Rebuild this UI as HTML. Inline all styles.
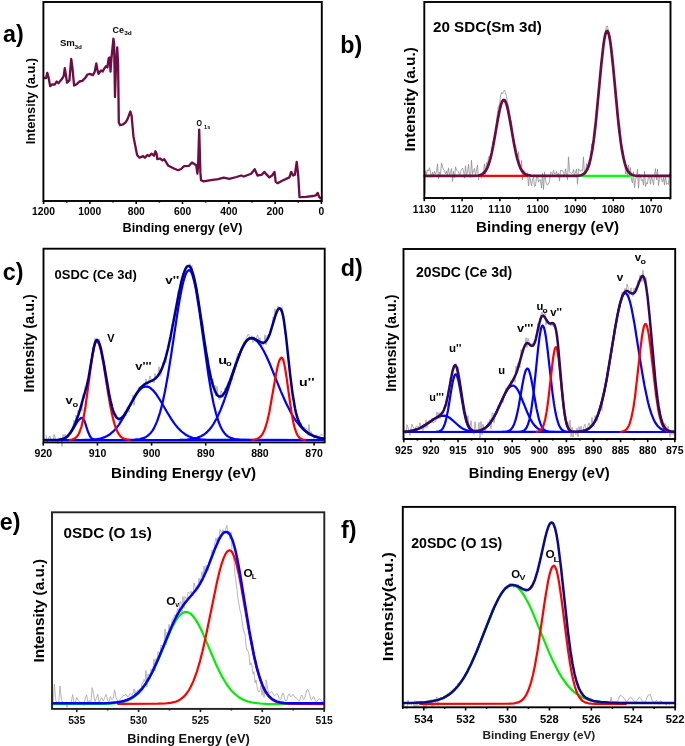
<!DOCTYPE html><html><head><meta charset="utf-8"><style>html,body{margin:0;padding:0;background:#fff;overflow:hidden}</style></head><body><svg width="685" height="746" viewBox="0 0 685 746" style="display:block;filter:blur(0.4px);font-family:'Liberation Sans',sans-serif;font-kerning:none">
<rect width="685" height="746" fill="#fff"/>
<path d="M44.3,78.0 L46.1,78.0 L47.3,72.8 L48.4,76.9 L50.2,86.2 L51.9,84.5 L54.8,84.5 L56.6,81.5 L58.4,83.3 L61.3,79.8 L63.6,76.3 L64.8,68.1 L67.1,82.7 L69.4,80.4 L71.2,58.8 L72.4,67.5 L74.1,85.6 L77.0,83.9 L79.4,81.5 L82.3,80.9 L85.2,78.0 L87.5,74.5 L89.9,73.9 L92.8,75.1 L94.6,72.2 L96.3,63.4 L97.5,70.4 L98.6,73.9 L101.0,70.4 L102.7,71.6 L104.0,68.9 L106.0,66.2 L107.4,67.5 L108.7,58.2 L109.7,57.5 L110.5,71.6 L111.4,58.8 L113.4,38.7 L114.1,43.4 L115.0,97.0 L116.1,63.5 L117.2,47.4 L118.1,63.5 L118.8,122.5 L120.1,125.2 L122.8,124.5 L125.5,122.5 L127.4,119.3 L130.4,111.5 L131.6,115.7 L133.4,136.2 L135.3,145.9 L137.1,154.9 L139.5,157.7 L143.1,156.1 L144.9,157.7 L147.3,154.9 L149.1,156.1 L151.5,153.7 L154.0,155.7 L155.4,151.3 L156.6,153.7 L157.3,159.1 L160.0,158.5 L162.4,160.3 L164.2,159.1 L168.4,165.8 L174.5,168.8 L178.1,170.2 L181.1,169.0 L184.1,166.1 L189.0,165.8 L192.0,162.5 L196.2,165.2 L197.4,173.6 L198.0,167.6 L199.2,129.6 L200.4,172.4 L201.0,180.2 L203.6,181.4 L210.9,180.1 L218.2,179.2 L223.7,177.7 L229.2,178.8 L236.5,177.0 L241.1,175.5 L243.8,176.5 L251.1,173.7 L254.7,169.2 L257.5,175.5 L262.0,174.6 L264.2,171.9 L269.3,177.4 L272.1,175.5 L274.5,171.9 L275.7,181.9 L277.6,183.2 L282.1,180.7 L289.4,177.4 L291.2,171.9 L293.1,175.5 L294.9,174.6 L296.7,161.9 L298.2,175.5 L299.5,197.1 L305.8,196.9 L313.1,196.0 L315.9,195.3 L317.7,192.9 L319.0,196.5 L320.4,198.4" fill="none" stroke="#6e0c44" stroke-width="2.3" stroke-linejoin="round" stroke-linecap="round"/>
<rect x="43.40" y="2.00" width="278.40" height="199.00" fill="none" stroke="#000" stroke-width="1.9"/>
<line x1="321.40" y1="201.00" x2="321.40" y2="204.00" stroke="#000" stroke-width="1.6"/>
<line x1="275.10" y1="201.00" x2="275.10" y2="204.00" stroke="#000" stroke-width="1.6"/>
<line x1="228.80" y1="201.00" x2="228.80" y2="204.00" stroke="#000" stroke-width="1.6"/>
<line x1="182.50" y1="201.00" x2="182.50" y2="204.00" stroke="#000" stroke-width="1.6"/>
<line x1="136.20" y1="201.00" x2="136.20" y2="204.00" stroke="#000" stroke-width="1.6"/>
<line x1="89.90" y1="201.00" x2="89.90" y2="204.00" stroke="#000" stroke-width="1.6"/>
<line x1="43.60" y1="201.00" x2="43.60" y2="204.00" stroke="#000" stroke-width="1.6"/>
<line x1="298.25" y1="201.00" x2="298.25" y2="202.60" stroke="#000" stroke-width="1.6"/>
<line x1="251.95" y1="201.00" x2="251.95" y2="202.60" stroke="#000" stroke-width="1.6"/>
<line x1="205.65" y1="201.00" x2="205.65" y2="202.60" stroke="#000" stroke-width="1.6"/>
<line x1="159.35" y1="201.00" x2="159.35" y2="202.60" stroke="#000" stroke-width="1.6"/>
<line x1="113.05" y1="201.00" x2="113.05" y2="202.60" stroke="#000" stroke-width="1.6"/>
<line x1="66.75" y1="201.00" x2="66.75" y2="202.60" stroke="#000" stroke-width="1.6"/>
<text x="32.03" y="215.30" font-size="10.3" font-weight="bold" fill="#000">1200</text>
<text x="78.33" y="215.30" font-size="10.3" font-weight="bold" fill="#000">1000</text>
<text x="127.66" y="215.30" font-size="10.3" font-weight="bold" fill="#000">800</text>
<text x="173.93" y="215.30" font-size="10.3" font-weight="bold" fill="#000">600</text>
<text x="220.34" y="215.30" font-size="10.3" font-weight="bold" fill="#000">400</text>
<text x="266.54" y="215.30" font-size="10.3" font-weight="bold" fill="#000">200</text>
<text x="318.54" y="215.30" font-size="10.3" font-weight="bold" fill="#000">0</text>
<text x="122.55" y="231.50" font-size="12.5" font-weight="bold" fill="#000" textLength="119.88" lengthAdjust="spacingAndGlyphs">Binding energy (eV)</text>
<text transform="translate(34.60,143.40) rotate(-90)" x="-0.85" y="0" font-size="12.2" font-weight="bold" fill="#000" textLength="86.18" lengthAdjust="spacingAndGlyphs">Intensity (a.u.)</text>
<text x="3.12" y="42.00" font-size="23.3" font-weight="bold" fill="#000">a)</text>
<text x="59.92" y="46.30" font-size="9.0" font-weight="bold" fill="#000" textLength="14.97" lengthAdjust="spacingAndGlyphs">Sm</text>
<text x="74.45" y="48.50" font-size="6.2" font-weight="bold" fill="#000" textLength="7.47" lengthAdjust="spacingAndGlyphs">3d</text>
<text x="112.43" y="32.50" font-size="9.0" font-weight="bold" fill="#000" textLength="11.48" lengthAdjust="spacingAndGlyphs">Ce</text>
<text x="124.15" y="34.60" font-size="6.2" font-weight="bold" fill="#000" textLength="7.58" lengthAdjust="spacingAndGlyphs">3d</text>
<text x="196.61" y="126.30" font-size="8.4" font-weight="bold" fill="#000" textLength="5.49" lengthAdjust="spacingAndGlyphs">O</text>
<text x="204.05" y="128.60" font-size="5.8" font-weight="bold" fill="#000" textLength="6.18" lengthAdjust="spacingAndGlyphs">1s</text>
<path d="M425.0,194.0 L425.5,170.7 L426.5,174.8 L427.5,169.8 L428.5,171.1 L429.5,167.7 L431.5,177.1 L432.5,172.1 L433.5,176.8 L434.5,171.4 L435.5,174.0 L436.5,172.1 L437.5,163.8 L438.5,178.8 L439.5,171.9 L440.5,174.3 L441.5,162.9 L442.5,166.7 L443.5,169.5 L444.5,170.5 L445.5,173.9 L446.5,171.0 L447.5,174.7 L448.5,167.8 L449.5,174.8 L450.5,172.8 L451.5,168.4 L452.5,181.4 L453.5,171.3 L454.5,177.9 L455.5,166.8 L456.5,170.1 L458.5,171.7 L459.5,175.0 L460.5,172.0 L461.5,169.7 L462.5,168.1 L463.5,170.7 L464.5,178.2 L465.5,165.8 L466.5,175.2 L467.5,172.8 L468.5,164.4 L469.5,174.7 L470.5,177.2 L471.5,160.4 L472.5,174.4 L473.5,170.5 L474.5,168.4 L475.5,175.4 L477.5,165.2 L478.5,179.7 L479.5,174.3 L480.5,177.2 L481.5,178.1 L482.5,171.9 L483.5,172.0 L484.5,163.9 L485.5,174.3 L486.5,162.6 L487.5,164.8 L488.5,156.9 L489.5,157.1 L491.5,154.4 L492.5,142.0 L493.5,140.4 L495.5,131.9 L497.5,112.2 L498.5,105.9 L499.5,105.6 L500.5,96.1 L501.5,92.6 L502.5,93.8 L503.5,91.3 L504.5,90.1 L505.5,92.8 L506.5,96.3 L507.5,103.3 L508.5,106.1 L510.5,119.5 L511.5,122.0 L512.5,135.6 L513.5,138.7 L514.5,144.6 L515.5,144.7 L516.5,153.8 L517.5,159.2 L518.5,151.7 L519.5,166.2 L520.5,170.3 L521.5,160.4 L522.5,180.0 L523.5,169.8 L524.5,171.3 L525.5,174.0 L526.5,175.3 L527.5,172.8 L528.5,186.0 L529.5,175.4 L531.5,185.8 L532.5,179.2 L533.5,177.2 L534.5,186.7 L535.5,185.9 L536.5,177.0 L537.5,175.6 L538.5,182.1 L539.5,179.8 L540.5,179.9 L541.5,188.0 L542.5,173.5 L543.5,189.5 L544.5,171.8 L545.5,180.3 L546.5,184.1 L547.5,185.2 L549.5,181.6 L550.5,172.3 L551.5,172.5 L552.5,174.5 L553.5,170.2 L554.5,173.8 L555.5,174.0 L556.5,171.2 L557.5,175.8 L558.5,173.2 L559.5,181.1 L560.5,170.2 L562.5,170.6 L563.5,172.3 L564.5,176.2 L565.5,168.8 L567.5,179.7 L568.5,156.9 L569.5,171.8 L570.5,173.1 L571.5,173.4 L572.5,172.5 L573.5,169.6 L574.5,175.8 L575.5,171.8 L576.5,169.3 L577.5,184.3 L578.5,169.0 L579.5,169.8 L580.5,171.4 L581.5,169.9 L582.5,170.7 L583.5,156.9 L584.5,175.5 L585.5,176.2 L586.5,163.6 L587.5,170.8 L588.5,170.0 L589.5,165.8 L590.5,165.2 L591.5,143.9 L592.5,150.4 L593.5,139.4 L594.5,137.7 L595.5,129.1 L596.5,108.8 L597.5,109.6 L598.5,89.6 L599.5,85.7 L600.5,67.5 L601.5,62.3 L603.5,40.6 L604.5,35.0 L606.5,26.2 L607.5,26.0 L608.5,31.6 L609.5,34.2 L610.5,39.2 L611.5,54.5 L612.5,54.3 L613.5,72.7 L614.5,78.9 L615.5,92.8 L617.5,113.5 L618.5,126.4 L619.5,123.9 L620.5,135.9 L621.5,151.7 L622.5,147.0 L623.5,155.4 L624.5,156.2 L625.5,173.8 L626.5,168.9 L627.5,177.1 L628.5,165.0 L629.5,175.4 L630.5,167.6 L631.5,180.4 L632.5,183.0 L633.5,171.6 L634.5,187.7 L635.5,179.5 L636.5,176.9 L637.5,169.3 L638.5,188.2 L639.5,174.4 L640.5,176.9 L641.5,180.8 L642.5,179.5 L643.5,185.2 L644.5,171.1 L645.5,186.4 L646.5,182.7 L647.5,183.9 L648.5,175.6 L649.5,175.8 L650.5,184.2 L651.5,176.9 L652.5,179.5 L653.5,184.8 L654.5,174.9 L655.5,168.6 L656.5,180.0 L657.5,169.0 L658.5,185.6 L659.5,177.4 L660.5,175.8 L662.5,182.1 L663.5,177.5 L664.5,185.1 L665.5,175.8 L666.5,184.3 L667.5,183.5 L668.5,184.3 L669.5,173.1" fill="none" stroke="#8c8c8c" stroke-width="0.8" stroke-linejoin="round" stroke-linecap="round"/>
<path d="M478.2,175.9 L527.3,175.9" fill="none" stroke="#ff0000" stroke-width="2.2" stroke-linejoin="round" stroke-linecap="round" stroke-linecap="butt"/>
<path d="M580.9,175.9 L630.1,175.9" fill="none" stroke="#00ff00" stroke-width="2.2" stroke-linejoin="round" stroke-linecap="round" stroke-linecap="butt"/>
<path d="M424.8,175.9 L475.3,175.8 L478.3,175.5 L480.3,175.1 L482.3,174.2 L483.8,173.1 L485.8,170.6 L487.3,167.8 L488.8,163.9 L490.3,158.9 L491.8,152.6 L493.3,145.2 L497.8,119.4 L499.8,109.3 L500.8,105.3 L501.8,102.4 L502.8,100.5 L503.3,100.1 L503.8,99.9 L504.3,100.1 L504.8,100.5 L505.8,102.4 L506.8,105.3 L507.8,109.3 L509.8,119.4 L514.3,145.2 L515.8,152.6 L517.3,158.9 L518.8,163.9 L520.3,167.8 L521.8,170.6 L523.8,173.1 L525.8,174.5 L527.8,175.2 L530.8,175.7 L535.3,175.9 L576.3,175.8 L578.8,175.6 L580.8,175.2 L582.3,174.7 L583.8,173.8 L585.3,172.4 L586.3,171.0 L588.3,166.7 L590.3,159.9 L592.3,149.7 L593.8,139.5 L595.8,122.4 L601.3,64.4 L603.3,46.4 L604.3,39.5 L605.3,34.5 L606.3,31.6 L606.8,31.0 L607.3,30.9 L607.8,31.5 L608.3,32.5 L609.3,36.3 L610.3,42.0 L611.3,49.6 L613.3,68.5 L617.8,116.6 L619.3,130.6 L620.8,142.4 L621.8,149.1 L623.3,157.2 L624.8,163.4 L626.3,167.8 L627.8,170.8 L629.8,173.3 L631.8,174.7 L634.3,175.5 L636.8,175.8 L640.3,175.9 L670.0,175.9" fill="none" stroke="#6b0c40" stroke-width="2.7" stroke-linejoin="round" stroke-linecap="round"/>
<rect x="424.30" y="2.00" width="246.20" height="196.00" fill="none" stroke="#000" stroke-width="1.9"/>
<line x1="424.30" y1="198.00" x2="424.30" y2="201.20" stroke="#000" stroke-width="1.6"/>
<line x1="462.10" y1="198.00" x2="462.10" y2="201.20" stroke="#000" stroke-width="1.6"/>
<line x1="499.90" y1="198.00" x2="499.90" y2="201.20" stroke="#000" stroke-width="1.6"/>
<line x1="537.70" y1="198.00" x2="537.70" y2="201.20" stroke="#000" stroke-width="1.6"/>
<line x1="575.50" y1="198.00" x2="575.50" y2="201.20" stroke="#000" stroke-width="1.6"/>
<line x1="613.30" y1="198.00" x2="613.30" y2="201.20" stroke="#000" stroke-width="1.6"/>
<line x1="651.10" y1="198.00" x2="651.10" y2="201.20" stroke="#000" stroke-width="1.6"/>
<line x1="443.20" y1="198.00" x2="443.20" y2="199.60" stroke="#000" stroke-width="1.6"/>
<line x1="481.00" y1="198.00" x2="481.00" y2="199.60" stroke="#000" stroke-width="1.6"/>
<line x1="518.80" y1="198.00" x2="518.80" y2="199.60" stroke="#000" stroke-width="1.6"/>
<line x1="556.60" y1="198.00" x2="556.60" y2="199.60" stroke="#000" stroke-width="1.6"/>
<line x1="594.40" y1="198.00" x2="594.40" y2="199.60" stroke="#000" stroke-width="1.6"/>
<line x1="632.20" y1="198.00" x2="632.20" y2="199.60" stroke="#000" stroke-width="1.6"/>
<line x1="670.00" y1="198.00" x2="670.00" y2="199.60" stroke="#000" stroke-width="1.6"/>
<text x="412.73" y="213.40" font-size="10.3" font-weight="bold" fill="#000">1130</text>
<text x="450.53" y="213.40" font-size="10.3" font-weight="bold" fill="#000">1120</text>
<text x="488.33" y="213.40" font-size="10.3" font-weight="bold" fill="#000">1110</text>
<text x="526.13" y="213.40" font-size="10.3" font-weight="bold" fill="#000">1100</text>
<text x="563.93" y="213.40" font-size="10.3" font-weight="bold" fill="#000">1090</text>
<text x="601.73" y="213.40" font-size="10.3" font-weight="bold" fill="#000">1080</text>
<text x="639.53" y="213.40" font-size="10.3" font-weight="bold" fill="#000">1070</text>
<text x="475.99" y="231.90" font-size="14.8" font-weight="bold" fill="#000" textLength="143.07" lengthAdjust="spacingAndGlyphs">Binding energy (eV)</text>
<text transform="translate(414.80,150.40) rotate(-90)" x="-1.03" y="0" font-size="14.6" font-weight="bold" fill="#000" textLength="104.30" lengthAdjust="spacingAndGlyphs">Intensity (a.u.)</text>
<text x="340.36" y="53.40" font-size="23.3" font-weight="bold" fill="#000">b)</text>
<text x="432.97" y="32.40" font-size="14.6" font-weight="bold" fill="#000" textLength="108.88" lengthAdjust="spacingAndGlyphs">20 SDC(Sm 3d)</text>
<path d="M46.0,435.5 L47.0,441.6 L48.0,441.3 L49.0,436.9 L50.0,436.0 L51.0,440.1 L52.0,440.3 L53.0,442.1 L54.0,434.5 L55.0,436.9 L56.0,442.0 L57.0,439.5 L58.0,443.5 L59.0,440.3 L60.0,438.0 L61.0,438.1 L62.0,446.4 L63.0,434.5 L64.0,436.7 L65.0,434.3 L66.0,438.0 L68.0,434.0 L69.0,434.0 L71.0,432.9 L72.0,432.0 L73.0,427.2 L74.0,420.1 L75.0,427.0 L76.0,415.0 L77.0,419.5 L78.0,410.3 L79.0,414.0 L80.0,406.1 L81.0,407.2 L82.0,411.1 L83.0,394.6 L84.0,398.4 L85.0,386.2 L86.0,389.1 L87.0,385.9 L88.0,378.8 L89.0,375.8 L91.0,359.3 L92.0,358.8 L93.0,347.1 L94.0,352.5 L95.0,338.2 L96.0,343.3 L97.0,338.1 L98.0,343.3 L99.0,338.8 L100.0,348.6 L101.0,346.5 L102.0,357.2 L103.0,358.2 L104.0,363.8 L105.0,366.9 L106.0,378.5 L107.0,381.6 L108.0,391.9 L109.0,389.7 L110.0,400.2 L111.0,402.6 L112.0,406.7 L114.0,412.6 L115.0,412.5 L116.0,413.7 L118.0,419.8 L119.0,422.0 L120.0,419.6 L121.0,420.1 L122.0,418.1 L123.0,417.2 L124.0,414.4 L126.0,415.9 L127.0,407.1 L128.0,406.7 L129.0,412.4 L130.0,402.8 L131.0,405.8 L132.0,402.0 L133.0,394.8 L134.0,405.6 L135.0,397.5 L136.0,393.3 L137.0,394.3 L139.0,386.6 L140.0,388.4 L141.0,387.6 L142.0,388.7 L143.0,385.8 L144.0,383.7 L145.0,387.3 L146.0,378.9 L147.0,385.8 L148.0,383.7 L150.0,375.9 L151.0,379.3 L152.0,380.9 L153.0,380.5 L154.0,382.9 L155.0,373.5 L156.0,378.7 L157.0,377.5 L158.0,373.9 L159.0,366.7 L160.0,376.5 L161.0,375.1 L163.0,361.9 L164.0,362.1 L165.0,359.8 L166.0,362.8 L167.0,351.1 L168.0,348.3 L169.0,347.8 L170.0,336.8 L171.0,340.0 L172.0,324.4 L173.0,323.4 L175.0,316.1 L176.0,307.9 L177.0,302.5 L178.0,290.9 L179.0,291.4 L180.0,285.0 L181.0,281.4 L182.0,280.4 L183.0,273.0 L184.0,274.6 L185.0,268.3 L186.0,266.4 L188.0,266.2 L189.0,267.3 L190.0,263.7 L191.0,267.5 L192.0,265.6 L193.0,279.0 L194.0,278.7 L195.0,279.7 L196.0,285.0 L197.0,288.1 L198.0,299.1 L199.0,303.8 L200.0,316.8 L201.0,315.5 L202.0,322.1 L203.0,324.0 L204.0,344.1 L205.0,342.4 L206.0,346.3 L207.0,358.6 L208.0,356.9 L209.0,380.2 L210.0,371.8 L211.0,379.3 L212.0,380.0 L213.0,378.8 L214.0,389.6 L215.0,385.1 L216.0,396.0 L217.0,386.3 L218.0,395.0 L219.0,399.3 L220.0,399.5 L221.0,390.8 L222.0,392.1 L223.0,397.7 L224.0,394.0 L225.0,387.8 L226.0,388.4 L228.0,382.0 L229.0,381.5 L230.0,384.0 L231.0,377.8 L232.0,380.4 L233.0,369.2 L234.0,369.1 L235.0,362.7 L236.0,363.6 L237.0,355.9 L238.0,353.5 L239.0,358.2 L240.0,355.3 L241.0,351.2 L242.0,351.1 L243.0,345.1 L244.0,341.7 L245.0,343.0 L246.0,339.2 L248.0,334.4 L249.0,334.8 L250.0,338.5 L252.0,335.8 L253.0,342.3 L254.0,336.6 L255.0,340.3 L256.0,341.6 L257.0,335.8 L258.0,335.2 L259.0,344.4 L260.0,337.7 L261.0,346.7 L262.0,341.1 L263.0,345.3 L264.0,343.0 L265.0,334.7 L266.0,344.9 L267.0,335.5 L268.0,336.4 L269.0,334.2 L270.0,335.2 L271.0,331.3 L272.0,328.7 L273.0,317.0 L274.0,319.6 L275.0,308.8 L276.0,315.2 L277.0,311.5 L278.0,306.0 L279.0,309.3 L280.0,307.7 L281.0,311.7 L282.0,307.4 L284.0,318.5 L285.0,333.3 L286.0,336.8 L287.0,343.8 L288.0,354.9 L290.0,373.2 L292.0,388.4 L293.0,392.6 L295.0,412.7 L296.0,411.8 L297.0,415.9 L298.0,418.0 L299.0,421.7 L300.0,424.2 L301.0,422.8 L302.0,427.9 L303.0,428.1 L304.0,426.6 L305.0,428.3 L306.0,428.3 L307.0,429.2 L308.0,435.7 L309.0,424.6 L310.0,435.6 L311.0,431.4 L313.0,435.6 L314.0,438.5 L315.0,434.9 L316.0,436.0 L317.0,434.6 L319.0,439.6 L320.0,435.1 L321.0,434.7 L322.0,434.8 L323.0,435.5" fill="none" stroke="#9c9c9c" stroke-width="0.8" stroke-linejoin="round" stroke-linecap="round"/>
<path d="M44.5,440.0 L54.5,440.0 L59.0,439.8 L62.5,439.1 L65.5,437.8 L68.0,435.9 L70.5,432.9 L72.5,429.9 L76.5,423.1 L78.5,420.2 L80.5,418.4 L82.0,417.9 L82.5,418.0 L83.0,418.4 L84.0,420.0 L85.0,422.5 L88.0,431.8 L90.0,436.3 L91.0,437.7 L92.5,439.0 L94.0,439.6 L95.5,439.9 L101.5,440.0 L323.8,440.0" fill="none" stroke="#0000ff" stroke-width="2.2" stroke-linejoin="round" stroke-linecap="round"/>
<path d="M44.5,440.0 L80.0,440.0 L91.5,439.7 L96.5,439.2 L100.5,438.5 L104.0,437.4 L107.0,436.0 L110.0,434.2 L113.0,431.7 L116.0,428.5 L119.0,424.6 L124.0,416.5 L134.0,398.0 L138.0,391.9 L140.0,389.6 L142.0,387.8 L144.0,386.8 L146.0,386.5 L148.0,386.8 L150.5,388.1 L153.0,390.3 L155.5,393.2 L160.0,400.0 L168.0,413.7 L171.5,419.4 L175.0,424.4 L178.0,428.0 L181.5,431.5 L185.0,434.2 L188.5,436.2 L192.5,437.7 L196.0,438.6 L200.5,439.3 L205.5,439.7 L212.0,439.9 L323.8,440.0" fill="none" stroke="#0000ff" stroke-width="2.2" stroke-linejoin="round" stroke-linecap="round"/>
<path d="M44.5,440.0 L122.0,440.0 L134.5,439.7 L140.0,439.1 L144.0,437.9 L146.0,436.9 L147.5,435.9 L150.5,433.2 L152.5,430.6 L154.0,428.1 L157.0,421.6 L160.0,412.6 L162.5,403.0 L165.0,391.3 L168.0,374.8 L171.0,356.0 L177.5,312.6 L179.5,300.5 L181.5,289.8 L183.5,281.1 L185.5,274.7 L186.5,272.5 L187.5,271.1 L188.5,270.3 L189.0,270.2 L189.5,270.3 L190.5,271.1 L191.5,272.8 L192.5,275.4 L194.0,280.6 L196.0,290.1 L199.5,311.7 L208.5,375.6 L211.0,390.5 L213.5,403.2 L216.0,413.5 L218.5,421.5 L220.0,425.4 L221.5,428.5 L223.0,431.1 L224.5,433.2 L226.0,434.8 L227.5,436.1 L230.5,437.9 L234.5,439.1 L239.5,439.7 L251.0,440.0 L323.8,440.0" fill="none" stroke="#0000ff" stroke-width="2.2" stroke-linejoin="round" stroke-linecap="round"/>
<path d="M44.5,440.0 L180.0,439.9 L187.0,439.5 L192.5,438.9 L197.0,437.8 L201.0,436.2 L203.5,434.8 L205.5,433.3 L207.5,431.6 L209.5,429.5 L211.5,427.0 L213.5,424.0 L217.0,417.8 L220.5,410.1 L224.0,401.0 L227.5,390.8 L236.5,362.8 L241.0,350.8 L243.5,345.5 L246.0,341.5 L247.5,339.8 L248.5,339.0 L250.0,338.3 L251.0,338.2 L252.5,338.4 L254.0,338.9 L255.5,339.8 L257.0,341.1 L260.0,344.7 L263.5,350.5 L266.5,356.5 L269.5,363.2 L281.0,391.6 L286.0,403.0 L291.5,413.7 L294.0,417.9 L296.5,421.6 L299.5,425.4 L302.5,428.6 L305.5,431.3 L308.5,433.4 L312.0,435.3 L315.5,436.7 L319.5,437.9 L323.8,438.7" fill="none" stroke="#0000ff" stroke-width="2.2" stroke-linejoin="round" stroke-linecap="round"/>
<path d="M70.0,439.8 L72.0,439.5 L74.0,438.8 L75.5,437.9 L77.0,436.5 L78.5,434.3 L79.5,432.2 L81.5,426.5 L83.5,418.0 L85.5,406.5 L91.0,365.4 L93.0,352.2 L94.0,347.2 L95.0,343.6 L96.0,341.5 L96.5,341.1 L97.0,341.1 L98.0,341.9 L99.0,343.9 L100.0,346.9 L101.5,353.2 L103.5,364.0 L108.0,392.5 L110.5,407.0 L113.0,418.6 L115.0,425.7 L116.0,428.5 L117.5,431.9 L119.0,434.4 L120.5,436.3 L122.0,437.6 L124.0,438.7 L126.5,439.4 L129.3,439.8" fill="none" stroke="#ff0000" stroke-width="2.2" stroke-linejoin="round" stroke-linecap="round"/>
<path d="M252.4,439.8 L254.9,439.5 L256.9,439.0 L258.9,438.0 L260.4,436.7 L261.9,434.9 L262.9,433.3 L264.4,430.2 L265.4,427.5 L267.4,420.7 L269.4,411.8 L275.4,377.6 L277.4,367.5 L278.4,363.5 L279.4,360.5 L280.4,358.5 L281.4,357.7 L281.9,357.7 L282.4,358.2 L282.9,359.2 L283.9,362.3 L284.9,367.1 L286.4,376.4 L291.4,412.0 L293.4,422.7 L294.9,428.7 L296.9,434.1 L297.9,435.8 L298.9,437.1 L299.9,438.1 L301.4,439.0 L302.9,439.5 L305.0,439.8" fill="none" stroke="#ff0000" stroke-width="2.2" stroke-linejoin="round" stroke-linecap="round"/>
<path d="M44.5,440.0 L58.0,439.8 L61.0,439.5 L63.5,438.8 L66.0,437.5 L68.0,435.8 L70.5,432.6 L72.5,429.2 L75.5,422.7 L78.5,414.6 L80.5,408.1 L83.0,398.8 L86.5,387.0 L88.5,377.9 L93.5,348.7 L95.0,342.9 L96.0,340.7 L96.5,340.2 L97.0,340.1 L97.5,340.3 L98.5,341.6 L99.5,343.9 L101.0,349.1 L103.5,361.4 L109.0,393.3 L110.5,400.6 L112.0,406.8 L113.0,410.2 L114.5,414.2 L116.0,416.9 L117.5,418.4 L119.0,418.9 L120.5,418.6 L122.0,417.5 L124.0,415.2 L127.0,410.5 L136.0,394.3 L139.0,389.9 L141.5,386.9 L143.5,385.1 L145.5,383.7 L152.0,380.6 L154.0,379.5 L156.0,377.9 L157.5,376.3 L160.0,372.6 L162.0,368.4 L164.0,363.0 L166.0,356.4 L168.0,348.5 L170.5,337.0 L178.5,294.9 L181.5,281.1 L183.5,273.9 L185.0,269.9 L186.0,268.0 L187.0,266.6 L188.0,266.0 L188.5,265.9 L189.5,266.2 L190.0,266.7 L191.5,269.3 L193.0,273.6 L194.5,279.5 L196.0,286.8 L198.0,298.2 L205.5,348.1 L209.0,368.6 L211.0,378.1 L213.0,385.6 L215.0,391.2 L217.0,394.8 L218.0,395.8 L219.0,396.4 L220.0,396.6 L221.0,396.4 L222.0,395.8 L223.0,394.8 L224.0,393.6 L225.5,391.1 L227.5,386.9 L229.5,382.0 L237.5,359.5 L240.5,351.8 L242.5,347.3 L244.0,344.5 L245.5,342.1 L247.0,340.3 L249.0,338.7 L250.0,338.2 L251.5,338.1 L253.0,338.3 L254.5,338.8 L260.0,341.9 L262.0,342.7 L263.5,342.7 L264.5,342.4 L265.5,341.7 L266.5,340.6 L268.0,338.2 L270.0,333.4 L275.0,316.8 L276.5,312.5 L277.5,310.3 L278.5,308.8 L279.5,308.3 L280.0,308.4 L281.0,309.5 L282.0,311.7 L283.0,315.6 L284.0,321.2 L286.0,336.4 L290.0,373.4 L292.5,393.5 L295.0,408.3 L296.0,412.8 L297.5,418.1 L299.0,422.0 L301.0,425.9 L303.5,429.2 L306.5,431.9 L310.0,434.3 L314.0,436.2 L318.5,437.6 L323.8,438.7" fill="none" stroke="#00008e" stroke-width="2.5" stroke-linejoin="round" stroke-linecap="round"/>
<rect x="43.50" y="248.70" width="281.20" height="193.70" fill="none" stroke="#000" stroke-width="1.9"/>
<line x1="43.30" y1="442.40" x2="43.30" y2="445.60" stroke="#000" stroke-width="1.6"/>
<line x1="97.45" y1="442.40" x2="97.45" y2="445.60" stroke="#000" stroke-width="1.6"/>
<line x1="151.60" y1="442.40" x2="151.60" y2="445.60" stroke="#000" stroke-width="1.6"/>
<line x1="205.75" y1="442.40" x2="205.75" y2="445.60" stroke="#000" stroke-width="1.6"/>
<line x1="259.90" y1="442.40" x2="259.90" y2="445.60" stroke="#000" stroke-width="1.6"/>
<line x1="314.05" y1="442.40" x2="314.05" y2="445.60" stroke="#000" stroke-width="1.6"/>
<text x="34.57" y="457.20" font-size="10.5" font-weight="bold" fill="#000">920</text>
<text x="88.72" y="457.20" font-size="10.5" font-weight="bold" fill="#000">910</text>
<text x="142.87" y="457.20" font-size="10.5" font-weight="bold" fill="#000">900</text>
<text x="197.04" y="457.20" font-size="10.5" font-weight="bold" fill="#000">890</text>
<text x="251.19" y="457.20" font-size="10.5" font-weight="bold" fill="#000">880</text>
<text x="305.34" y="457.20" font-size="10.5" font-weight="bold" fill="#000">870</text>
<text x="111.09" y="478.10" font-size="15.0" font-weight="bold" fill="#000" textLength="144.97" lengthAdjust="spacingAndGlyphs">Binding Energy (eV)</text>
<text transform="translate(34.30,391.60) rotate(-90)" x="-0.97" y="0" font-size="14.2" font-weight="bold" fill="#000" textLength="98.50" lengthAdjust="spacingAndGlyphs">Intensity (a.u.)</text>
<text x="2.69" y="280.00" font-size="23.3" font-weight="bold" fill="#000">c)</text>
<text x="54.59" y="279.00" font-size="12.8" font-weight="bold" fill="#000" textLength="82.16" lengthAdjust="spacingAndGlyphs">0SDC (Ce 3d)</text>
<text x="65.55" y="404.20" font-size="10.5" font-weight="bold" fill="#000" textLength="7.21" lengthAdjust="spacingAndGlyphs">v</text>
<text x="72.53" y="406.80" font-size="7.0" font-weight="bold" fill="#000" textLength="5.73" lengthAdjust="spacingAndGlyphs">o</text>
<text x="107.33" y="341.50" font-size="10.2" font-weight="bold" fill="#000" textLength="7.25" lengthAdjust="spacingAndGlyphs">V</text>
<text x="135.35" y="370.20" font-size="10.5" font-weight="bold" fill="#000" textLength="16.32" lengthAdjust="spacingAndGlyphs">v'''</text>
<text x="165.35" y="284.00" font-size="10.5" font-weight="bold" fill="#000" textLength="13.85" lengthAdjust="spacingAndGlyphs">v''</text>
<text x="218.30" y="363.70" font-size="10.5" font-weight="bold" fill="#000" textLength="8.85" lengthAdjust="spacingAndGlyphs">u</text>
<text x="226.03" y="366.00" font-size="7.0" font-weight="bold" fill="#000" textLength="5.73" lengthAdjust="spacingAndGlyphs">o</text>
<text x="299.12" y="386.00" font-size="10.5" font-weight="bold" fill="#000" textLength="15.41" lengthAdjust="spacingAndGlyphs">u''</text>
<path d="M405.0,432.9 L406.0,433.9 L407.0,424.7 L408.0,427.4 L410.0,435.5 L411.0,428.4 L412.0,424.2 L413.0,427.0 L414.0,428.6 L415.0,431.8 L416.0,426.3 L418.0,426.4 L419.0,427.5 L420.0,422.7 L421.0,428.3 L422.0,426.9 L423.0,430.7 L424.0,423.6 L425.0,428.3 L426.0,419.9 L427.0,427.5 L428.0,421.9 L429.0,420.8 L430.0,421.8 L431.0,423.2 L432.0,418.2 L433.0,423.0 L434.0,421.9 L435.0,421.7 L436.0,420.9 L437.0,411.9 L438.0,418.9 L439.0,412.6 L440.0,418.6 L441.0,412.8 L442.0,413.8 L443.0,412.3 L444.0,407.2 L445.0,407.7 L446.0,400.9 L447.0,406.4 L448.0,390.9 L449.0,390.8 L450.0,378.1 L451.0,375.8 L452.0,371.4 L453.0,371.7 L454.0,367.2 L456.0,363.4 L457.0,374.0 L458.0,366.6 L460.0,384.8 L461.0,386.1 L462.0,398.3 L463.0,404.9 L464.0,407.6 L465.0,415.3 L467.0,419.8 L468.0,415.7 L469.0,425.9 L470.0,426.7 L471.0,420.8 L472.0,428.4 L473.0,429.6 L474.0,434.3 L475.0,421.7 L476.0,429.6 L477.0,429.9 L478.0,430.9 L479.0,422.4 L480.0,438.5 L481.0,421.4 L482.0,434.7 L483.0,424.1 L484.0,429.7 L485.0,432.1 L486.0,426.9 L487.0,426.4 L488.0,422.0 L489.0,423.1 L490.0,418.8 L491.0,428.8 L492.0,412.8 L493.0,413.2 L494.0,423.2 L495.0,416.2 L496.0,411.2 L497.0,413.7 L498.0,405.0 L499.0,405.8 L500.0,405.7 L501.0,402.4 L502.0,398.0 L503.0,402.7 L504.0,395.5 L505.0,393.4 L506.0,387.6 L507.0,391.0 L508.0,386.1 L510.0,386.7 L511.0,380.4 L512.0,383.0 L513.0,381.4 L514.0,378.2 L515.0,382.4 L516.0,365.9 L517.0,373.2 L518.0,363.3 L520.0,367.7 L521.0,349.6 L522.0,355.0 L524.0,346.8 L525.0,347.6 L526.0,337.7 L527.0,347.6 L528.0,338.2 L529.0,341.4 L530.0,346.7 L531.0,345.7 L532.0,343.1 L534.0,343.7 L535.0,341.3 L536.0,337.4 L538.0,323.0 L539.0,330.4 L540.0,318.8 L541.0,314.2 L542.0,312.0 L543.0,314.4 L544.0,314.9 L545.0,311.1 L546.0,325.1 L547.0,319.5 L548.0,321.2 L549.0,324.0 L550.0,323.3 L551.0,326.0 L552.0,322.1 L553.0,326.7 L554.0,326.9 L555.0,323.8 L557.0,333.4 L558.0,344.5 L559.0,352.6 L560.0,367.3 L562.0,391.2 L563.0,396.1 L564.0,413.3 L565.0,413.1 L566.0,421.5 L567.0,423.0 L568.0,422.0 L569.0,430.5 L570.0,420.2 L571.0,436.8 L572.0,427.1 L573.0,437.2 L574.0,430.0 L575.0,432.8 L576.0,434.7 L577.0,428.0 L578.0,436.8 L579.0,426.7 L580.0,431.7 L581.0,425.9 L582.0,432.8 L583.0,430.6 L584.0,426.2 L585.0,424.1 L586.0,429.5 L587.0,429.0 L589.0,422.8 L590.0,426.3 L591.0,425.8 L592.0,417.5 L593.0,424.8 L594.0,426.4 L595.0,415.5 L596.0,420.0 L597.0,421.2 L598.0,414.6 L599.0,413.9 L601.0,401.2 L602.0,410.7 L603.0,394.3 L604.0,393.9 L605.0,391.9 L608.0,368.0 L609.0,366.1 L611.0,351.3 L613.0,338.3 L614.0,334.8 L615.0,326.4 L616.0,324.4 L617.0,319.4 L618.0,312.1 L619.0,307.3 L620.0,307.8 L622.0,292.0 L623.0,293.6 L624.0,293.1 L625.0,288.3 L626.0,293.9 L627.0,284.1 L628.0,287.3 L629.0,295.5 L630.0,292.3 L631.0,287.8 L632.0,295.0 L633.0,296.4 L634.0,288.1 L635.0,289.5 L636.0,286.8 L637.0,285.5 L638.0,280.3 L639.0,282.1 L640.0,274.9 L641.0,278.8 L642.0,281.8 L643.0,270.4 L644.0,281.6 L645.0,282.1 L646.0,277.6 L647.0,294.8 L648.0,299.0 L649.0,309.0 L650.0,322.9 L651.0,329.3 L652.0,345.0 L653.0,352.9 L654.0,366.1 L655.0,374.0 L656.0,393.6 L657.0,391.7 L658.0,399.6 L659.0,414.9 L660.0,415.9 L661.0,416.4 L662.0,419.8 L663.0,422.2 L664.0,430.2 L665.0,423.2 L666.0,425.2 L667.0,432.2 L668.0,426.0 L669.0,429.7 L670.0,437.2 L671.0,430.4 L672.0,434.6 L673.0,429.8 L674.0,435.2" fill="none" stroke="#9c9c9c" stroke-width="0.8" stroke-linejoin="round" stroke-linecap="round"/>
<path d="M404.5,431.7 L408.5,431.3 L412.0,430.7 L415.0,429.9 L418.0,428.9 L421.0,427.5 L424.0,425.9 L433.5,419.4 L437.0,417.4 L440.5,416.0 L444.0,415.6 L446.5,416.1 L449.5,417.7 L452.0,419.8 L459.0,426.0 L461.5,427.9 L463.5,429.0 L466.0,430.1 L468.5,430.9 L471.5,431.4 L474.5,431.7 L487.5,432.0 L674.2,432.0" fill="none" stroke="#0000ff" stroke-width="2.2" stroke-linejoin="round" stroke-linecap="round"/>
<path d="M404.5,432.0 L436.0,431.9 L438.0,431.7 L439.5,431.3 L441.0,430.4 L442.0,429.5 L443.0,428.1 L444.0,426.1 L445.0,423.4 L446.0,419.9 L448.0,410.3 L451.5,388.6 L453.0,380.6 L454.5,375.5 L455.0,374.7 L455.5,374.3 L456.0,374.4 L457.0,375.9 L458.5,381.0 L460.0,388.7 L464.0,411.8 L465.5,418.6 L466.5,422.1 L468.0,426.1 L469.5,428.7 L470.5,429.9 L471.5,430.7 L473.5,431.5 L476.5,431.9 L481.5,432.0 L674.2,432.0" fill="none" stroke="#0000ff" stroke-width="2.2" stroke-linejoin="round" stroke-linecap="round"/>
<path d="M404.5,432.0 L469.0,431.9 L476.5,431.3 L479.5,430.7 L482.0,429.8 L484.5,428.4 L486.5,426.9 L489.0,424.4 L491.0,421.8 L493.0,418.7 L495.5,414.2 L503.5,396.7 L506.5,391.0 L508.5,388.2 L510.0,386.7 L511.5,385.8 L513.0,385.5 L514.0,385.8 L515.5,386.9 L517.0,388.8 L518.5,391.3 L521.0,396.8 L528.0,414.1 L530.5,419.3 L532.5,422.6 L534.5,425.4 L537.0,427.9 L539.5,429.6 L542.5,430.8 L545.0,431.4 L547.5,431.7 L555.5,432.0 L674.2,432.0" fill="none" stroke="#0000ff" stroke-width="2.2" stroke-linejoin="round" stroke-linecap="round"/>
<path d="M404.5,432.0 L501.0,432.0 L506.0,431.7 L507.5,431.4 L509.0,430.9 L511.0,429.4 L512.5,427.4 L514.0,424.5 L515.5,420.2 L517.0,414.4 L518.5,407.2 L522.5,384.2 L524.0,376.6 L525.0,372.7 L526.0,369.9 L527.0,368.6 L527.5,368.5 L528.0,368.7 L529.0,370.4 L530.5,375.4 L532.0,382.7 L536.5,408.5 L539.0,419.4 L540.5,423.9 L542.0,427.1 L543.0,428.6 L544.0,429.7 L546.0,431.0 L549.0,431.8 L554.0,432.0 L674.2,432.0" fill="none" stroke="#0000ff" stroke-width="2.2" stroke-linejoin="round" stroke-linecap="round"/>
<path d="M404.5,432.0 L516.5,432.0 L519.5,431.9 L521.5,431.6 L523.0,431.1 L524.5,430.2 L525.5,429.1 L526.5,427.7 L528.0,424.4 L529.5,419.2 L531.0,411.8 L533.5,393.6 L538.0,349.7 L539.5,337.1 L541.0,328.6 L542.0,325.9 L542.5,325.5 L543.0,325.7 L544.0,327.7 L545.0,331.8 L546.0,337.6 L547.5,349.0 L552.5,393.1 L554.0,403.9 L555.5,412.6 L557.0,419.2 L558.5,424.0 L559.5,426.3 L560.5,428.0 L561.5,429.2 L562.5,430.1 L564.0,431.0 L565.5,431.5 L567.5,431.8 L571.0,432.0 L674.2,432.0" fill="none" stroke="#0000ff" stroke-width="2.2" stroke-linejoin="round" stroke-linecap="round"/>
<path d="M404.5,432.0 L572.5,431.9 L578.5,431.7 L582.5,431.1 L585.5,430.3 L588.5,428.8 L590.5,427.2 L592.0,425.7 L594.0,422.9 L595.5,420.3 L597.0,417.1 L598.5,413.2 L601.0,405.2 L603.5,395.1 L606.5,380.2 L609.0,365.9 L615.5,325.9 L618.5,310.1 L620.5,301.9 L622.0,297.4 L623.0,295.2 L624.0,293.8 L625.0,293.2 L625.5,293.1 L626.0,293.3 L627.0,294.2 L628.5,297.2 L630.0,301.8 L631.5,308.0 L634.5,324.0 L641.5,368.5 L644.5,385.8 L648.0,402.3 L649.5,407.9 L651.5,414.2 L653.5,419.2 L655.5,423.0 L657.5,425.8 L660.0,428.2 L662.5,429.8 L665.5,430.9 L669.0,431.5 L674.2,431.9" fill="none" stroke="#0000ff" stroke-width="2.2" stroke-linejoin="round" stroke-linecap="round"/>
<path d="M536.6,431.8 L538.1,431.5 L539.6,430.9 L540.6,430.2 L541.6,429.1 L542.6,427.4 L543.6,425.1 L545.1,419.7 L546.6,411.9 L548.1,401.3 L553.1,358.0 L554.6,349.8 L555.1,348.2 L555.6,347.3 L556.1,347.1 L556.6,347.7 L557.1,349.2 L558.6,358.3 L563.1,402.5 L564.6,414.0 L565.6,419.8 L567.1,425.6 L568.6,429.0 L569.6,430.3 L570.6,431.0 L571.6,431.5 L573.0,431.8" fill="none" stroke="#ff0000" stroke-width="2.2" stroke-linejoin="round" stroke-linecap="round"/>
<path d="M621.0,431.8 L623.0,431.4 L625.0,430.5 L626.5,429.3 L627.5,428.0 L628.5,426.3 L629.5,424.1 L631.5,417.3 L633.5,407.1 L635.0,396.8 L640.5,348.1 L642.0,336.5 L643.0,330.5 L644.0,326.3 L645.0,324.2 L645.5,323.9 L646.0,324.2 L647.0,326.3 L648.0,330.4 L649.0,336.1 L650.5,347.3 L656.0,394.9 L658.0,408.2 L659.5,415.8 L661.5,422.9 L662.5,425.4 L664.0,428.1 L665.5,429.7 L667.0,430.8 L668.5,431.3 L670.7,431.8" fill="none" stroke="#ff0000" stroke-width="2.2" stroke-linejoin="round" stroke-linecap="round"/>
<path d="M404.5,431.7 L409.0,431.2 L413.0,430.5 L417.0,429.3 L420.5,427.8 L425.0,425.2 L433.5,419.4 L439.0,416.0 L440.5,414.8 L442.0,413.2 L443.0,411.7 L444.0,409.7 L446.0,403.8 L448.0,395.1 L452.5,371.2 L454.0,366.4 L454.5,365.6 L455.0,365.2 L455.5,365.3 L456.5,366.9 L458.0,372.2 L459.5,380.4 L463.0,403.1 L464.5,411.7 L466.5,420.4 L467.5,423.5 L468.5,425.9 L470.0,428.4 L471.5,429.9 L473.0,430.7 L475.0,431.1 L478.0,430.9 L481.0,430.1 L484.0,428.7 L486.5,426.9 L488.5,425.0 L490.0,423.2 L493.5,417.9 L497.0,411.1 L505.5,392.6 L508.0,388.1 L512.5,381.0 L514.5,377.2 L516.0,373.8 L517.5,369.7 L523.0,350.4 L524.0,347.5 L525.0,345.2 L526.0,343.8 L527.0,343.1 L527.5,343.1 L528.5,343.5 L531.0,345.6 L532.0,345.9 L533.0,345.6 L534.0,344.2 L535.0,341.8 L536.0,338.3 L539.0,324.8 L540.5,319.1 L541.5,316.7 L542.0,316.1 L542.5,315.7 L543.0,315.7 L543.5,315.9 L544.5,316.9 L547.5,321.7 L548.5,322.8 L549.0,323.2 L550.0,323.5 L552.5,323.1 L553.5,323.5 L554.5,325.0 L555.0,326.3 L556.0,330.1 L557.0,336.2 L558.0,344.8 L562.0,390.3 L563.5,405.1 L564.5,412.9 L565.5,419.0 L566.5,423.5 L567.5,426.6 L568.5,428.8 L570.0,430.6 L571.5,431.4 L573.0,431.7 L577.0,431.8 L582.0,431.2 L585.5,430.3 L588.5,428.8 L590.5,427.2 L592.5,425.0 L594.5,422.1 L596.0,419.3 L597.5,415.9 L599.0,411.8 L602.0,401.4 L604.5,390.4 L607.0,377.4 L615.0,328.8 L617.5,314.9 L620.0,303.6 L622.0,297.0 L623.0,294.6 L624.0,292.9 L625.0,291.7 L626.0,291.1 L627.0,291.0 L628.0,291.3 L631.0,293.2 L632.0,293.6 L633.0,293.6 L633.5,293.4 L634.5,292.6 L635.5,291.2 L636.5,289.1 L640.5,278.6 L641.5,276.8 L642.0,276.2 L642.5,276.0 L643.0,276.1 L643.5,276.6 L644.0,277.5 L645.0,280.7 L646.0,285.6 L647.5,296.2 L649.5,315.3 L655.5,381.8 L657.5,398.9 L658.5,405.7 L660.0,414.0 L661.0,418.3 L662.5,423.2 L663.5,425.5 L665.0,428.0 L666.5,429.6 L668.5,430.8 L671.0,431.5 L674.2,431.9" fill="none" stroke="#2e0a5c" stroke-width="2.5" stroke-linejoin="round" stroke-linecap="round"/>
<rect x="403.50" y="249.00" width="271.70" height="190.00" fill="none" stroke="#000" stroke-width="1.9"/>
<line x1="403.80" y1="439.00" x2="403.80" y2="442.20" stroke="#000" stroke-width="1.6"/>
<line x1="430.90" y1="439.00" x2="430.90" y2="442.20" stroke="#000" stroke-width="1.6"/>
<line x1="458.00" y1="439.00" x2="458.00" y2="442.20" stroke="#000" stroke-width="1.6"/>
<line x1="485.10" y1="439.00" x2="485.10" y2="442.20" stroke="#000" stroke-width="1.6"/>
<line x1="512.20" y1="439.00" x2="512.20" y2="442.20" stroke="#000" stroke-width="1.6"/>
<line x1="539.30" y1="439.00" x2="539.30" y2="442.20" stroke="#000" stroke-width="1.6"/>
<line x1="566.40" y1="439.00" x2="566.40" y2="442.20" stroke="#000" stroke-width="1.6"/>
<line x1="593.50" y1="439.00" x2="593.50" y2="442.20" stroke="#000" stroke-width="1.6"/>
<line x1="620.60" y1="439.00" x2="620.60" y2="442.20" stroke="#000" stroke-width="1.6"/>
<line x1="647.70" y1="439.00" x2="647.70" y2="442.20" stroke="#000" stroke-width="1.6"/>
<line x1="674.80" y1="439.00" x2="674.80" y2="442.20" stroke="#000" stroke-width="1.6"/>
<line x1="661.25" y1="439.00" x2="661.25" y2="440.60" stroke="#000" stroke-width="1.6"/>
<line x1="634.15" y1="439.00" x2="634.15" y2="440.60" stroke="#000" stroke-width="1.6"/>
<line x1="607.05" y1="439.00" x2="607.05" y2="440.60" stroke="#000" stroke-width="1.6"/>
<line x1="579.95" y1="439.00" x2="579.95" y2="440.60" stroke="#000" stroke-width="1.6"/>
<line x1="552.85" y1="439.00" x2="552.85" y2="440.60" stroke="#000" stroke-width="1.6"/>
<line x1="525.75" y1="439.00" x2="525.75" y2="440.60" stroke="#000" stroke-width="1.6"/>
<line x1="498.65" y1="439.00" x2="498.65" y2="440.60" stroke="#000" stroke-width="1.6"/>
<line x1="471.55" y1="439.00" x2="471.55" y2="440.60" stroke="#000" stroke-width="1.6"/>
<line x1="444.45" y1="439.00" x2="444.45" y2="440.60" stroke="#000" stroke-width="1.6"/>
<line x1="417.35" y1="439.00" x2="417.35" y2="440.60" stroke="#000" stroke-width="1.6"/>
<text x="395.00" y="453.80" font-size="10.5" font-weight="bold" fill="#000">925</text>
<text x="422.17" y="453.80" font-size="10.5" font-weight="bold" fill="#000">920</text>
<text x="449.20" y="453.80" font-size="10.5" font-weight="bold" fill="#000">915</text>
<text x="476.37" y="453.80" font-size="10.5" font-weight="bold" fill="#000">910</text>
<text x="503.40" y="453.80" font-size="10.5" font-weight="bold" fill="#000">905</text>
<text x="530.57" y="453.80" font-size="10.5" font-weight="bold" fill="#000">900</text>
<text x="557.62" y="453.80" font-size="10.5" font-weight="bold" fill="#000">895</text>
<text x="584.79" y="453.80" font-size="10.5" font-weight="bold" fill="#000">890</text>
<text x="611.82" y="453.80" font-size="10.5" font-weight="bold" fill="#000">885</text>
<text x="638.99" y="453.80" font-size="10.5" font-weight="bold" fill="#000">880</text>
<text x="666.02" y="453.80" font-size="10.5" font-weight="bold" fill="#000">875</text>
<text x="468.81" y="477.80" font-size="14.6" font-weight="bold" fill="#000" textLength="140.92" lengthAdjust="spacingAndGlyphs">Binding Energy (eV)</text>
<text transform="translate(396.30,390.80) rotate(-90)" x="-0.96" y="0" font-size="14.0" font-weight="bold" fill="#000" textLength="97.17" lengthAdjust="spacingAndGlyphs">Intensity (a.u.)</text>
<text x="340.79" y="275.50" font-size="23.3" font-weight="bold" fill="#000">d)</text>
<text x="415.92" y="277.40" font-size="13.8" font-weight="bold" fill="#000" textLength="96.28" lengthAdjust="spacingAndGlyphs">20SDC (Ce 3d)</text>
<text x="429.32" y="400.50" font-size="10.5" font-weight="bold" fill="#000" textLength="14.44" lengthAdjust="spacingAndGlyphs">u'''</text>
<text x="449.09" y="351.60" font-size="10.5" font-weight="bold" fill="#000" textLength="12.51" lengthAdjust="spacingAndGlyphs">u''</text>
<text x="498.31" y="374.40" font-size="10.5" font-weight="bold" fill="#000" textLength="6.83" lengthAdjust="spacingAndGlyphs">u</text>
<text x="517.05" y="332.20" font-size="10.5" font-weight="bold" fill="#000" textLength="16.21" lengthAdjust="spacingAndGlyphs">v'''</text>
<text x="536.61" y="309.70" font-size="10.5" font-weight="bold" fill="#000" textLength="6.83" lengthAdjust="spacingAndGlyphs">u</text>
<text x="542.47" y="313.00" font-size="7.0" font-weight="bold" fill="#000" textLength="5.16" lengthAdjust="spacingAndGlyphs">o</text>
<text x="550.26" y="316.00" font-size="10.5" font-weight="bold" fill="#000" textLength="11.73" lengthAdjust="spacingAndGlyphs">v''</text>
<text x="616.85" y="280.50" font-size="10.5" font-weight="bold" fill="#000" textLength="6.50" lengthAdjust="spacingAndGlyphs">v</text>
<text x="634.66" y="260.70" font-size="10.5" font-weight="bold" fill="#000" textLength="6.40" lengthAdjust="spacingAndGlyphs">v</text>
<text x="640.45" y="264.00" font-size="7.0" font-weight="bold" fill="#000" textLength="5.50" lengthAdjust="spacingAndGlyphs">o</text>
<path d="M53.0,704.4 L54.4,684.0 L55.8,700.4 L57.2,703.2 L58.6,704.4 L60.0,686.0 L61.4,699.8 L62.8,702.4 L65.6,704.2 L67.0,707.2 L68.4,702.5 L69.8,704.0 L71.2,702.4 L72.6,694.6 L74.0,702.5 L75.4,702.4 L76.8,697.5 L78.2,700.4 L79.6,701.7 L81.0,704.3 L82.4,704.1 L83.8,705.5 L85.2,698.0 L86.6,695.1 L88.0,702.7 L89.4,700.4 L90.8,702.7 L92.2,687.6 L95.0,701.6 L97.8,694.1 L99.2,703.5 L100.6,698.7 L102.0,698.0 L103.4,701.1 L104.8,697.2 L106.2,694.4 L107.6,700.5 L109.0,702.1 L110.4,696.4 L111.8,699.8 L113.2,698.6 L114.6,689.9 L116.0,697.5 L118.8,703.1 L120.2,698.8 L121.6,697.7 L123.0,695.9 L124.4,695.6 L125.8,694.3 L127.2,696.3 L128.6,696.5 L130.0,693.5 L132.0,695.6 L133.0,693.0 L134.0,689.1 L135.0,696.3 L136.0,690.7 L137.0,691.7 L138.0,689.6 L139.0,693.8 L140.0,688.7 L141.0,690.1 L142.0,682.9 L143.0,683.2 L144.0,679.4 L145.0,681.5 L146.0,670.4 L147.0,686.9 L148.0,673.9 L149.0,675.9 L150.0,675.5 L151.0,668.9 L152.0,670.7 L153.0,669.2 L154.0,658.9 L155.0,670.9 L156.0,658.3 L157.0,661.3 L158.0,651.5 L159.0,653.2 L160.0,657.2 L161.0,644.9 L162.0,646.4 L163.0,645.6 L164.0,645.8 L165.0,629.1 L166.0,645.0 L167.0,632.0 L168.0,635.4 L169.0,624.4 L170.0,629.6 L171.0,629.1 L172.0,620.3 L174.0,616.9 L175.0,614.4 L176.0,617.1 L177.0,611.5 L178.0,608.5 L179.0,611.6 L180.0,601.8 L181.0,601.9 L182.0,613.1 L183.0,596.6 L184.0,608.3 L185.0,596.5 L186.0,598.4 L187.0,598.7 L188.0,592.3 L189.0,593.0 L190.0,593.4 L191.0,591.1 L192.0,594.2 L193.0,595.8 L194.0,582.9 L195.0,586.7 L196.0,589.2 L197.0,585.7 L198.0,587.1 L199.0,578.1 L200.0,583.7 L202.0,571.6 L203.0,578.1 L204.0,566.1 L205.0,574.6 L206.0,565.2 L207.0,566.2 L208.0,570.6 L209.0,563.5 L210.0,558.8 L211.0,556.8 L212.0,549.9 L213.0,555.7 L214.0,548.0 L215.0,542.1 L216.0,538.1 L217.0,542.0 L218.0,536.9 L219.0,539.4 L220.0,529.5 L222.0,533.1 L223.0,529.6 L224.0,532.5 L225.0,531.3 L226.0,527.9 L227.0,525.4 L228.0,535.1 L229.0,530.9 L230.0,539.3 L231.0,531.8 L232.0,550.9 L233.0,554.2 L234.0,561.7 L235.0,574.9 L237.0,589.5 L238.0,598.9 L240.0,610.4 L241.0,613.8 L243.0,627.5 L244.0,632.0 L245.0,634.6 L246.0,645.0 L247.0,650.3 L248.0,650.7 L249.0,654.7 L250.0,665.1 L251.0,662.6 L252.0,666.2 L253.0,674.1 L254.0,671.7 L255.0,682.9 L256.0,679.9 L257.0,686.5 L258.0,691.0 L259.0,692.1 L260.0,690.1 L261.0,685.7 L262.0,695.3 L263.0,686.5 L264.0,697.3 L265.0,690.1 L266.0,688.9 L266.0,679.8 L266.7,682.4 L268.1,690.7 L268.8,692.8 L269.5,693.3 L270.9,692.1 L271.6,691.8 L272.3,692.4 L273.7,695.0 L274.4,695.8 L275.1,695.5 L276.5,693.8 L277.2,693.8 L277.9,695.0 L279.3,698.6 L280.0,699.7 L280.7,699.5 L282.8,693.1 L283.5,693.8 L284.9,699.4 L285.6,700.9 L286.3,700.9 L287.0,699.5 L288.4,694.5 L289.1,693.8 L290.5,696.5 L291.2,696.7 L292.6,694.7 L293.3,694.6 L294.7,696.9 L295.4,697.7 L296.8,698.3 L298.2,700.5 L298.9,701.3 L299.6,700.8 L301.0,696.2 L301.7,695.0 L302.4,696.3 L303.1,698.5 L303.8,699.5 L304.5,698.6 L306.6,691.0 L307.3,689.5 L308.0,689.6 L308.7,691.4 L310.8,699.0 L311.5,699.8 L312.2,699.0 L312.9,697.2 L313.6,696.4 L314.3,697.7 L315.0,699.8 L315.7,701.2 L316.4,701.5 L317.1,701.0 L318.5,699.1 L319.2,698.7 L319.9,698.9 L322.0,701.5 L322.7,702.0" fill="none" stroke="#a4a4a4" stroke-width="0.8" stroke-linejoin="round" stroke-linecap="round"/>
<path d="M52.8,704.1 L98.3,704.0 L106.8,703.9 L113.3,703.5 L119.8,702.7 L124.8,701.5 L129.3,699.7 L133.8,697.2 L137.8,693.9 L141.8,689.7 L145.8,684.2 L149.8,677.6 L153.3,670.7 L156.8,663.1 L170.3,631.3 L173.3,625.1 L175.8,620.7 L178.3,617.1 L180.8,614.4 L183.3,612.7 L184.8,612.1 L185.8,612.0 L186.8,612.0 L188.3,612.4 L190.8,613.9 L193.3,616.4 L196.3,620.6 L199.3,625.9 L202.3,632.1 L215.8,663.7 L219.3,671.2 L222.8,677.9 L226.8,684.5 L230.8,689.9 L234.8,694.0 L238.8,697.2 L243.3,699.8 L247.8,701.5 L253.3,702.7 L259.8,703.5 L266.3,703.9 L275.3,704.0 L323.5,704.1" fill="none" stroke="#00ee00" stroke-width="2.2" stroke-linejoin="round" stroke-linecap="round"/>
<path d="M118.0,703.8 L158.0,703.7 L165.0,703.5 L170.5,702.9 L175.5,701.7 L178.0,700.7 L180.0,699.6 L183.5,696.9 L185.5,694.8 L187.0,692.9 L189.0,690.0 L190.5,687.3 L193.5,680.9 L197.0,671.3 L200.0,661.1 L202.5,651.2 L205.5,638.0 L217.0,582.0 L219.5,571.5 L221.5,564.3 L223.5,558.4 L225.5,554.0 L226.5,552.5 L227.5,551.3 L228.5,550.6 L229.5,550.4 L230.0,550.4 L231.0,551.0 L232.0,552.1 L233.0,553.9 L234.5,557.6 L236.5,564.3 L238.5,572.9 L240.5,582.8 L250.0,636.9 L254.5,659.2 L257.0,669.5 L260.0,679.5 L263.0,687.2 L266.0,692.9 L269.0,696.8 L272.0,699.5 L275.5,701.5 L277.5,702.2 L280.0,702.8 L284.5,703.4 L290.5,703.7 L323.5,703.8" fill="none" stroke="#ff0000" stroke-width="2.2" stroke-linejoin="round" stroke-linecap="round"/>
<path d="M52.8,703.3 L100.8,703.2 L109.8,702.9 L116.8,702.3 L120.3,701.8 L123.8,701.0 L126.8,700.0 L129.3,698.9 L131.8,697.6 L134.3,696.0 L138.8,692.2 L142.3,688.3 L145.8,683.4 L148.8,678.5 L152.3,672.0 L158.3,658.8 L171.3,627.3 L174.3,620.7 L177.3,614.8 L180.3,609.6 L183.8,604.5 L186.8,600.7 L194.8,591.3 L197.3,588.0 L199.8,584.1 L202.8,578.6 L205.8,572.1 L208.8,564.8 L215.3,547.9 L218.8,539.9 L220.8,536.3 L222.8,533.6 L223.8,532.7 L224.8,532.2 L226.3,531.9 L227.8,532.4 L228.8,533.2 L229.8,534.4 L230.8,536.1 L232.8,541.0 L235.3,549.9 L237.3,559.1 L239.8,572.5 L249.3,630.4 L253.8,654.3 L256.8,667.3 L259.3,676.2 L262.3,684.7 L265.3,690.9 L268.3,695.4 L269.8,697.0 L271.8,698.8 L275.3,700.9 L277.3,701.6 L279.8,702.3 L284.3,702.9 L290.3,703.2 L323.5,703.3" fill="none" stroke="#0000ff" stroke-width="2.5" stroke-linejoin="round" stroke-linecap="round"/>
<rect x="52.00" y="512.30" width="272.30" height="196.60" fill="none" stroke="#222" stroke-width="1.9"/>
<line x1="76.74" y1="708.90" x2="76.74" y2="712.10" stroke="#222" stroke-width="1.6"/>
<line x1="138.59" y1="708.90" x2="138.59" y2="712.10" stroke="#222" stroke-width="1.6"/>
<line x1="200.44" y1="708.90" x2="200.44" y2="712.10" stroke="#222" stroke-width="1.6"/>
<line x1="262.29" y1="708.90" x2="262.29" y2="712.10" stroke="#222" stroke-width="1.6"/>
<line x1="324.14" y1="708.90" x2="324.14" y2="712.10" stroke="#222" stroke-width="1.6"/>
<line x1="293.21" y1="708.90" x2="293.21" y2="710.50" stroke="#222" stroke-width="1.6"/>
<line x1="231.36" y1="708.90" x2="231.36" y2="710.50" stroke="#222" stroke-width="1.6"/>
<line x1="169.51" y1="708.90" x2="169.51" y2="710.50" stroke="#222" stroke-width="1.6"/>
<line x1="107.66" y1="708.90" x2="107.66" y2="710.50" stroke="#222" stroke-width="1.6"/>
<text x="68.13" y="723.50" font-size="10.3" font-weight="bold" fill="#111">535</text>
<text x="130.05" y="723.50" font-size="10.3" font-weight="bold" fill="#111">530</text>
<text x="191.83" y="723.50" font-size="10.3" font-weight="bold" fill="#111">525</text>
<text x="253.75" y="723.50" font-size="10.3" font-weight="bold" fill="#111">520</text>
<text x="315.53" y="723.50" font-size="10.3" font-weight="bold" fill="#111">515</text>
<text x="127.34" y="742.90" font-size="12.7" font-weight="bold" fill="#111" textLength="122.50" lengthAdjust="spacingAndGlyphs">Binding Energy (eV)</text>
<text transform="translate(43.80,661.60) rotate(-90)" x="-1.02" y="0" font-size="14.8" font-weight="bold" fill="#000" textLength="103.79" lengthAdjust="spacingAndGlyphs">Intensity (a.u.)</text>
<text x="-0.31" y="530.40" font-size="23.3" font-weight="bold" fill="#000">e)</text>
<text x="63.50" y="538.10" font-size="14.2" font-weight="bold" fill="#000" textLength="88.26" lengthAdjust="spacingAndGlyphs">0SDC (O 1s)</text>
<text x="166.30" y="605.40" font-size="10.8" font-weight="bold" fill="#000" textLength="9.40" lengthAdjust="spacingAndGlyphs">O</text>
<text x="175.17" y="606.90" font-size="6.5" font-weight="bold" fill="#000" textLength="3.96" lengthAdjust="spacingAndGlyphs">v</text>
<text x="243.52" y="576.50" font-size="10.8" font-weight="bold" fill="#000" textLength="9.18" lengthAdjust="spacingAndGlyphs">O</text>
<text x="251.88" y="578.50" font-size="6.5" font-weight="bold" fill="#000" textLength="4.76" lengthAdjust="spacingAndGlyphs">L</text>
<path d="M404.0,703.6 L405.0,706.6 L406.0,707.1 L407.0,708.9 L408.0,700.1 L409.0,704.8 L410.0,702.6 L411.0,704.9 L412.0,704.5 L413.0,701.7 L414.0,706.6 L415.0,700.5 L416.0,707.7 L417.0,701.4 L418.0,706.6 L419.0,705.1 L421.0,703.2 L422.0,703.0 L423.0,702.0 L424.0,709.2 L425.0,704.1 L426.0,709.1 L427.0,703.3 L428.0,705.1 L429.0,701.9 L430.0,703.7 L431.0,699.5 L432.0,707.4 L433.0,704.3 L434.0,706.4 L435.0,705.3 L436.0,698.9 L437.0,696.9 L438.0,705.8 L439.0,700.9 L440.0,698.3 L441.0,698.1 L442.0,699.8 L443.0,699.8 L444.0,697.5 L445.0,696.2 L446.0,697.8 L447.0,696.8 L448.0,693.4 L449.0,696.1 L450.0,692.0 L451.0,693.7 L453.0,691.2 L454.0,688.5 L455.0,690.5 L456.0,686.1 L457.0,688.8 L458.0,683.0 L459.0,685.1 L460.0,682.7 L461.0,681.4 L462.0,681.1 L463.0,679.2 L464.0,679.7 L465.0,675.6 L466.0,675.5 L467.0,670.3 L468.0,672.4 L469.0,668.8 L470.0,668.0 L471.0,665.6 L472.0,660.6 L474.0,657.2 L475.0,654.8 L476.0,655.0 L477.0,647.5 L478.0,649.4 L479.0,646.6 L481.0,639.0 L483.0,636.3 L485.0,629.8 L487.0,626.6 L488.0,621.5 L489.0,622.8 L490.0,615.1 L491.0,618.1 L492.0,609.6 L493.0,612.9 L494.0,606.9 L495.0,604.0 L496.0,604.2 L499.0,597.5 L501.0,593.8 L502.0,592.8 L503.0,592.7 L504.0,590.0 L505.0,589.7 L506.0,587.8 L507.0,588.8 L508.0,588.7 L509.0,587.7 L510.0,583.1 L511.0,584.7 L512.0,583.7 L513.0,584.9 L514.0,587.5 L515.0,583.9 L516.0,586.1 L517.0,585.5 L518.0,584.2 L519.0,586.2 L521.0,587.2 L522.0,588.5 L523.0,588.6 L524.0,589.5 L525.0,587.9 L526.0,592.1 L527.0,590.0 L528.0,589.0 L529.0,589.1 L530.0,587.6 L531.0,585.4 L532.0,587.6 L533.0,583.1 L534.0,583.8 L535.0,580.7 L536.0,574.2 L538.0,570.1 L539.0,564.2 L542.0,552.5 L543.0,545.2 L544.0,543.5 L545.0,539.5 L546.0,533.3 L548.0,528.3 L550.0,524.4 L551.0,522.9 L552.0,524.5 L553.0,521.8 L554.0,527.7 L555.0,527.8 L557.0,535.6 L558.0,546.2 L559.0,550.3 L561.0,569.3 L562.0,575.6 L563.0,587.5 L565.0,607.1 L566.0,614.2 L567.0,626.0 L568.0,630.5 L569.0,640.6 L571.0,653.7 L572.0,663.3 L573.0,665.9 L574.0,671.6 L576.0,679.9 L577.0,681.1 L578.0,686.1 L579.0,688.9 L580.0,688.8 L581.0,692.7 L582.0,693.2 L584.0,694.8 L585.0,696.8 L586.0,698.2 L587.0,699.1 L588.0,696.8 L589.0,700.5 L590.0,700.3 L591.0,697.9 L593.0,701.8 L594.0,701.6 L595.0,701.8 L596.0,703.3 L597.0,701.8 L598.0,703.4 L599.0,701.3 L600.0,702.2 L601.0,700.8 L602.0,702.8 L603.0,701.6 L604.0,701.8 L605.0,703.4 L607.0,701.9 L608.0,703.1 L609.0,702.9 L610.0,703.2 L611.0,697.2 L612.0,701.7 L612.0,703.0 L615.5,703.0 L616.2,702.7 L616.9,702.1 L617.6,701.0 L619.7,696.0 L620.4,695.2 L621.1,695.4 L622.5,697.1 L623.9,697.8 L626.0,701.4 L626.7,701.6 L627.4,701.0 L629.5,697.9 L630.2,697.3 L630.9,697.4 L631.6,698.0 L633.7,701.1 L634.4,701.8 L635.1,702.1 L635.8,701.9 L636.5,701.2 L638.6,697.9 L639.3,697.3 L640.0,697.5 L640.7,698.3 L642.8,701.7 L643.5,702.3 L644.2,702.5 L644.9,702.1 L645.6,701.1 L647.7,696.0 L648.4,695.1 L650.5,694.6 L651.9,699.9 L653.3,702.1 L654.0,701.9 L654.7,702.7 L655.4,702.3 L656.1,700.3 L656.8,700.7 L657.5,701.4 L658.9,704.3 L659.6,702.3 L660.3,701.1 L661.0,700.8 L661.7,701.6 L662.4,704.0 L663.1,703.8 L663.8,703.1 L665.2,703.3 L665.9,705.0 L666.6,704.9 L667.3,703.3 L668.7,703.3 L669.4,704.6 L670.1,703.3 L673.6,703.3" fill="none" stroke="#a0a0a0" stroke-width="0.8" stroke-linejoin="round" stroke-linecap="round"/>
<path d="M403.5,703.0 L415.5,702.8 L424.0,702.3 L431.0,701.5 L437.0,700.2 L442.0,698.4 L447.0,695.9 L451.5,692.6 L456.0,688.3 L460.0,683.4 L463.5,678.2 L467.0,672.2 L471.0,664.3 L474.5,656.6 L478.0,648.2 L492.0,612.5 L495.5,604.5 L498.5,598.5 L502.0,592.6 L504.0,590.0 L505.5,588.3 L507.5,586.7 L509.0,585.8 L510.5,585.3 L512.0,585.2 L513.5,585.3 L515.0,585.8 L516.5,586.7 L518.5,588.2 L521.5,591.6 L525.0,596.9 L528.5,603.4 L532.0,610.9 L548.5,651.1 L553.0,661.1 L557.0,669.1 L561.5,676.9 L566.5,684.0 L569.0,687.0 L571.5,689.6 L574.0,691.9 L576.5,693.8 L581.5,696.9 L584.5,698.3 L587.5,699.4 L594.0,701.1 L601.5,702.1 L609.5,702.7 L620.0,702.9 L674.5,703.0" fill="none" stroke="#00ee00" stroke-width="2.2" stroke-linejoin="round" stroke-linecap="round"/>
<path d="M420.0,703.8 L510.0,703.7 L514.5,703.3 L518.0,702.4 L520.5,701.3 L523.0,699.3 L524.5,697.5 L526.0,695.3 L528.5,690.0 L531.0,682.6 L533.0,674.8 L535.0,665.2 L537.5,650.9 L545.0,599.5 L548.0,581.6 L549.5,574.7 L551.0,569.6 L552.5,566.6 L553.5,565.8 L554.0,565.7 L554.5,566.0 L555.0,566.6 L556.5,570.2 L557.5,574.1 L559.0,582.0 L561.5,599.0 L568.0,650.0 L570.0,663.4 L571.5,671.9 L573.0,679.2 L575.0,687.0 L576.5,691.5 L578.5,695.9 L580.5,698.9 L582.5,700.9 L585.0,702.4 L588.5,703.3 L591.5,703.6 L596.0,703.8 L626.0,703.8" fill="none" stroke="#ff0000" stroke-width="2.2" stroke-linejoin="round" stroke-linecap="round"/>
<path d="M403.5,703.0 L416.0,702.7 L425.0,702.2 L432.0,701.3 L438.0,699.9 L443.5,697.8 L448.5,694.9 L451.0,693.0 L453.5,690.8 L458.0,686.0 L461.5,681.3 L464.5,676.6 L467.5,671.3 L471.0,664.3 L477.5,649.4 L489.5,618.7 L494.0,607.8 L498.5,598.5 L501.0,594.1 L503.0,591.2 L505.0,588.8 L507.0,587.0 L509.0,585.7 L511.0,585.0 L513.0,584.9 L515.5,585.4 L518.0,586.4 L523.5,589.4 L525.0,589.9 L526.5,590.1 L528.0,589.9 L529.5,589.0 L531.0,587.5 L532.5,585.2 L535.0,579.4 L537.5,571.1 L540.0,560.9 L545.0,538.4 L547.0,530.8 L548.5,526.4 L549.5,524.3 L550.5,523.0 L551.5,522.4 L552.5,522.8 L553.5,524.1 L555.0,528.0 L556.5,534.5 L558.0,543.6 L561.0,567.6 L568.0,632.1 L570.5,651.2 L572.5,663.7 L574.5,673.7 L576.5,681.5 L579.0,688.5 L581.5,693.1 L583.0,695.1 L584.5,696.7 L586.5,698.2 L588.5,699.3 L591.0,700.2 L593.5,700.9 L600.5,702.0 L608.5,702.6 L619.5,702.9 L674.5,703.0" fill="none" stroke="#0a0a8a" stroke-width="2.5" stroke-linejoin="round" stroke-linecap="round"/>
<rect x="402.80" y="506.90" width="272.40" height="200.40" fill="none" stroke="#000" stroke-width="1.9"/>
<line x1="423.75" y1="707.30" x2="423.75" y2="710.50" stroke="#000" stroke-width="1.6"/>
<line x1="465.65" y1="707.30" x2="465.65" y2="710.50" stroke="#000" stroke-width="1.6"/>
<line x1="507.55" y1="707.30" x2="507.55" y2="710.50" stroke="#000" stroke-width="1.6"/>
<line x1="549.45" y1="707.30" x2="549.45" y2="710.50" stroke="#000" stroke-width="1.6"/>
<line x1="591.35" y1="707.30" x2="591.35" y2="710.50" stroke="#000" stroke-width="1.6"/>
<line x1="633.25" y1="707.30" x2="633.25" y2="710.50" stroke="#000" stroke-width="1.6"/>
<line x1="675.15" y1="707.30" x2="675.15" y2="710.50" stroke="#000" stroke-width="1.6"/>
<line x1="402.80" y1="707.30" x2="402.80" y2="708.90" stroke="#000" stroke-width="1.6"/>
<line x1="444.70" y1="707.30" x2="444.70" y2="708.90" stroke="#000" stroke-width="1.6"/>
<line x1="486.60" y1="707.30" x2="486.60" y2="708.90" stroke="#000" stroke-width="1.6"/>
<line x1="528.50" y1="707.30" x2="528.50" y2="708.90" stroke="#000" stroke-width="1.6"/>
<line x1="570.40" y1="707.30" x2="570.40" y2="708.90" stroke="#000" stroke-width="1.6"/>
<line x1="612.30" y1="707.30" x2="612.30" y2="708.90" stroke="#000" stroke-width="1.6"/>
<line x1="654.20" y1="707.30" x2="654.20" y2="708.90" stroke="#000" stroke-width="1.6"/>
<text x="414.26" y="723.00" font-size="11.2" font-weight="bold" fill="#000">534</text>
<text x="456.36" y="723.00" font-size="11.2" font-weight="bold" fill="#000">532</text>
<text x="498.26" y="723.00" font-size="11.2" font-weight="bold" fill="#000">530</text>
<text x="540.11" y="723.00" font-size="11.2" font-weight="bold" fill="#000">528</text>
<text x="582.04" y="723.00" font-size="11.2" font-weight="bold" fill="#000">526</text>
<text x="623.76" y="723.00" font-size="11.2" font-weight="bold" fill="#000">524</text>
<text x="665.86" y="723.00" font-size="11.2" font-weight="bold" fill="#000">522</text>
<text x="482.51" y="738.70" font-size="11.7" font-weight="bold" fill="#222" textLength="112.78" lengthAdjust="spacingAndGlyphs">Binding Energy (eV)</text>
<text transform="translate(393.00,660.10) rotate(-90)" x="-1.12" y="0" font-size="15.4" font-weight="bold" fill="#000" textLength="108.96" lengthAdjust="spacingAndGlyphs">Intensity(a.u.)</text>
<text x="341.00" y="538.10" font-size="23.3" font-weight="bold" fill="#000">f)</text>
<text x="411.21" y="548.00" font-size="14.0" font-weight="bold" fill="#000" textLength="91.09" lengthAdjust="spacingAndGlyphs">20SDC (O 1S)</text>
<text x="511.33" y="577.70" font-size="10.8" font-weight="bold" fill="#000" textLength="8.84" lengthAdjust="spacingAndGlyphs">O</text>
<text x="519.64" y="580.00" font-size="6.5" font-weight="bold" fill="#000" textLength="5.92" lengthAdjust="spacingAndGlyphs">V</text>
<text x="545.52" y="558.20" font-size="10.8" font-weight="bold" fill="#000" textLength="9.18" lengthAdjust="spacingAndGlyphs">O</text>
<text x="553.56" y="562.00" font-size="6.5" font-weight="bold" fill="#000" textLength="5.83" lengthAdjust="spacingAndGlyphs">L</text>
</svg></body></html>
